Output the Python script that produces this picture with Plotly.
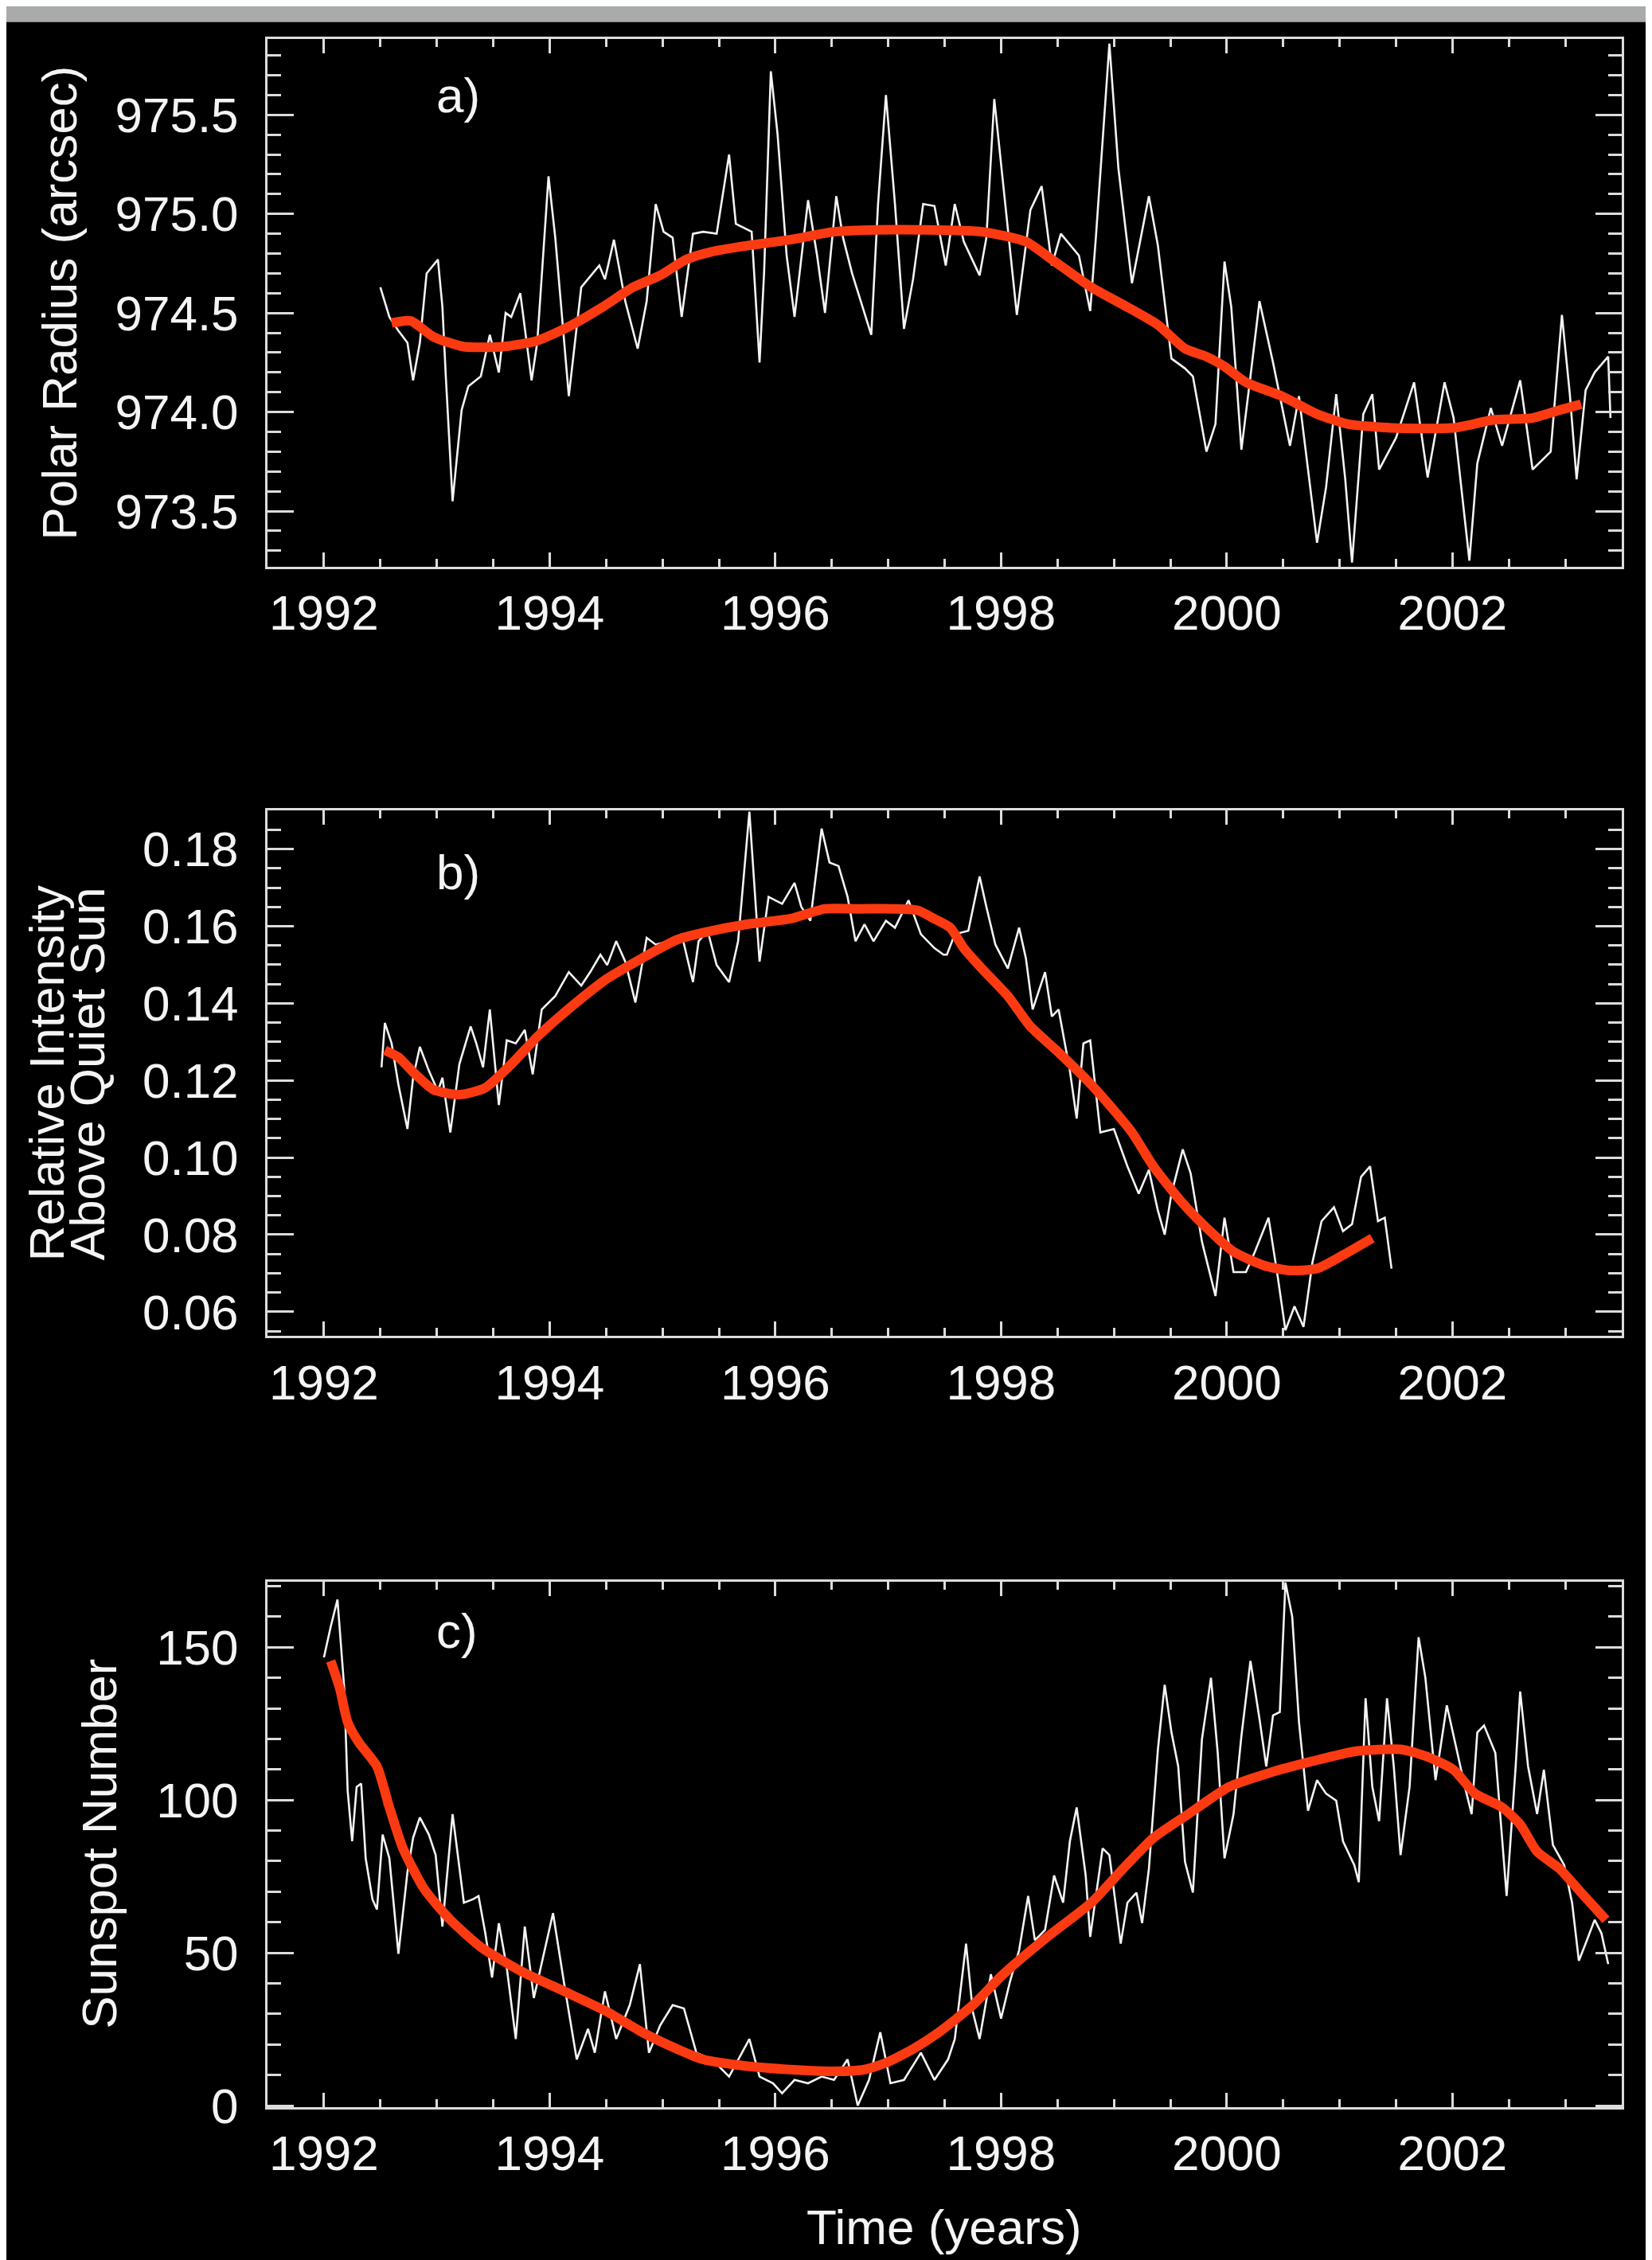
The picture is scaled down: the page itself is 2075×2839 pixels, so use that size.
import plotly.graph_objects as go

# ---------------- data: panel a (polar radius, arcsec) ----------------
rad_years = [1992.50, 1992.58, 1992.66, 1992.74, 1992.79, 1992.85, 1992.91, 1993.01, 1993.05, 1993.08,
             1993.14, 1993.22, 1993.28, 1993.39, 1993.47, 1993.55, 1993.61, 1993.66, 1993.74, 1993.84,
             1993.89, 1993.99, 1994.05, 1994.17, 1994.28, 1994.44, 1994.49, 1994.57, 1994.67, 1994.78,
             1994.86, 1994.94, 1995.01, 1995.09, 1995.17, 1995.27, 1995.36, 1995.48, 1995.59, 1995.65,
             1995.79, 1995.86, 1995.90, 1995.96, 1996.02, 1996.10, 1996.17, 1996.29, 1996.37, 1996.44,
             1996.54, 1996.60, 1996.68, 1996.85, 1996.91, 1996.98, 1997.06, 1997.14, 1997.22, 1997.31,
             1997.41, 1997.51, 1997.59, 1997.67, 1997.81, 1997.87, 1997.94, 1998.02, 1998.14, 1998.26,
             1998.36, 1998.45, 1998.53, 1998.69, 1998.79, 1998.84, 1998.96, 1999.04, 1999.16, 1999.31,
             1999.39, 1999.51, 1999.63, 1999.70, 1999.82, 1999.90, 1999.98, 2000.04, 2000.13, 2000.21,
             2000.29, 2000.41, 2000.56, 2000.64, 2000.80, 2000.88, 2000.97, 2001.05, 2001.11, 2001.21,
             2001.29, 2001.35, 2001.50, 2001.66, 2001.78, 2001.93, 2002.01, 2002.15, 2002.22, 2002.34,
             2002.44, 2002.60, 2002.71, 2002.87, 2002.97, 2003.04, 2003.10, 2003.18, 2003.26, 2003.38,
             2003.40]
rad_values = [974.63, 974.48, 974.41, 974.35, 974.16, 974.35, 974.70, 974.77, 974.53, 974.18,
              973.55, 974.01, 974.13, 974.18, 974.39, 974.20, 974.50, 974.48, 974.60, 974.16,
              974.35, 975.19, 974.88, 974.08, 974.63, 974.74, 974.67, 974.87, 974.56, 974.32,
              974.56, 975.05, 974.91, 974.88, 974.48, 974.90, 974.91, 974.90, 975.30, 974.95,
              974.91, 974.25, 974.70, 975.72, 975.40, 974.79, 974.48, 975.07, 974.79, 974.50,
              975.09, 974.88, 974.70, 974.39, 975.05, 975.60, 975.05, 974.42, 974.67, 975.05,
              975.04, 974.74, 975.05, 974.86, 974.69, 974.88, 975.58, 975.14, 974.49, 975.02,
              975.14, 974.74, 974.90, 974.79, 974.51, 974.88, 975.86, 975.23, 974.65, 975.09,
              974.84, 974.27, 974.22, 974.18, 973.80, 973.94, 974.76, 974.53, 973.81, 974.18,
              974.56, 974.25, 973.83, 974.08, 973.34, 973.62, 974.09, 973.66, 973.24, 973.99,
              974.09, 973.71, 973.87, 974.15, 973.67, 974.15, 973.97, 973.25, 973.74, 974.02,
              973.83, 974.16, 973.71, 973.80, 974.49, 974.09, 973.66, 974.11, 974.20, 974.28,
              973.97]
rad_fit_years = [1992.60, 1992.77, 1992.97, 1993.24, 1993.59, 1993.89, 1994.20, 1994.47, 1994.74, 1994.98,
                 1995.21, 1995.44, 1995.75, 1996.13, 1996.52, 1996.91, 1997.29, 1997.83, 1998.22, 1998.45,
                 1998.80, 1999.12, 1999.39, 1999.63, 1999.82, 1999.98, 2000.17, 2000.49, 2000.80, 2001.07,
                 2001.46, 2002.01, 2002.36, 2002.71, 2002.95, 2003.14]
rad_fit_values = [974.45, 974.46, 974.38, 974.33, 974.33, 974.36, 974.44, 974.53, 974.63, 974.69,
                  974.77, 974.81, 974.84, 974.87, 974.91, 974.92, 974.92, 974.91, 974.86, 974.77,
                  974.63, 974.53, 974.44, 974.32, 974.28, 974.23, 974.15, 974.08, 973.99, 973.94,
                  973.92, 973.92, 973.96, 973.97, 974.01, 974.04]

# ---------------- data: panel b (relative intensity) ----------------
int_years = [1992.51, 1992.54, 1992.60, 1992.66, 1992.74, 1992.79, 1992.85, 1992.93, 1993.01, 1993.05,
             1993.12, 1993.20, 1993.30, 1993.35, 1993.41, 1993.47, 1993.55, 1993.62, 1993.70, 1993.78,
             1993.85, 1993.93, 1994.05, 1994.17, 1994.28, 1994.36, 1994.45, 1994.51, 1994.59, 1994.67,
             1994.76, 1994.86, 1994.94, 1995.05, 1995.17, 1995.27, 1995.32, 1995.40, 1995.48, 1995.59,
             1995.67, 1995.77, 1995.86, 1995.94, 1996.06, 1996.17, 1996.23, 1996.31, 1996.41, 1996.48,
             1996.56, 1996.64, 1996.71, 1996.79, 1996.87, 1996.98, 1997.06, 1997.18, 1997.29, 1997.41,
             1997.49, 1997.52, 1997.59, 1997.71, 1997.81, 1997.87, 1997.95, 1998.06, 1998.16, 1998.22,
             1998.28, 1998.39, 1998.45, 1998.51, 1998.61, 1998.67, 1998.73, 1998.79, 1998.88, 1999.00,
             1999.12, 1999.22, 1999.31, 1999.39, 1999.45, 1999.51, 1999.61, 1999.68, 1999.78, 1999.90,
             1999.98, 2000.06, 2000.17, 2000.25, 2000.37, 2000.45, 2000.52, 2000.60, 2000.68, 2000.76,
             2000.84, 2000.95, 2001.03, 2001.11, 2001.19, 2001.27, 2001.34, 2001.40, 2001.46]
int_values = [0.1234, 0.1349, 0.1296, 0.1189, 0.1074, 0.1207, 0.1287, 0.1225, 0.1172, 0.1207,
              0.1065, 0.1242, 0.1340, 0.1296, 0.1234, 0.1384, 0.1136, 0.1304, 0.1296, 0.1331,
              0.1216, 0.1384, 0.1419, 0.1481, 0.1446, 0.1481, 0.1526, 0.1499, 0.1561, 0.1508,
              0.1402, 0.1570, 0.1552, 0.1561, 0.1579, 0.1455, 0.1561, 0.1588, 0.1499, 0.1455,
              0.1561, 0.1897, 0.1508, 0.1676, 0.1658, 0.1712, 0.1650, 0.1614, 0.1853, 0.1765,
              0.1756, 0.1676, 0.1561, 0.1605, 0.1561, 0.1614, 0.1596, 0.1667, 0.1579, 0.1543,
              0.1526, 0.1526, 0.1579, 0.1588, 0.1729, 0.1650, 0.1552, 0.1490, 0.1596, 0.1517,
              0.1384, 0.1481, 0.1366, 0.1384, 0.1225, 0.1101, 0.1296, 0.1304, 0.1065, 0.1074,
              0.0977, 0.0906, 0.0968, 0.0862, 0.0800, 0.0906, 0.1021, 0.0959, 0.0782, 0.0641,
              0.0844, 0.0703, 0.0703, 0.0756, 0.0844, 0.0694, 0.0552, 0.0614, 0.0561, 0.0729,
              0.0835, 0.0871, 0.0809, 0.0827, 0.0950, 0.0977, 0.0835, 0.0844, 0.0712]
int_fit_years = [1992.54, 1992.66, 1992.81, 1992.97, 1993.20, 1993.43, 1993.66, 1993.89, 1994.20, 1994.51,
                 1994.82, 1995.13, 1995.36, 1995.75, 1996.13, 1996.44, 1996.75, 1997.06, 1997.26, 1997.41,
                 1997.55, 1997.67, 1997.83, 1998.06, 1998.26, 1998.49, 1998.77, 1998.96, 1999.16, 1999.35,
                 1999.59, 1999.82, 2000.06, 2000.33, 2000.56, 2000.80, 2001.03, 2001.29]
int_fit_values = [0.1278, 0.1260, 0.1216, 0.1176, 0.1163, 0.1181, 0.1242, 0.1313, 0.1393, 0.1464,
                  0.1517, 0.1565, 0.1583, 0.1605, 0.1619, 0.1645, 0.1645, 0.1645, 0.1641, 0.1619,
                  0.1596, 0.1543, 0.1490, 0.1419, 0.1340, 0.1278, 0.1198, 0.1136, 0.1065, 0.0977,
                  0.0888, 0.0818, 0.0756, 0.0720, 0.0707, 0.0712, 0.0747, 0.0791]

# ---------------- data: panel c (sunspot number) ----------------
ssn_years = [1992.00, 1992.06, 1992.12, 1992.18, 1992.21, 1992.25, 1992.29, 1992.33, 1992.37, 1992.43,
             1992.47, 1992.52, 1992.58, 1992.66, 1992.74, 1992.79, 1992.85, 1992.93, 1992.99, 1993.05,
             1993.14, 1993.24, 1993.32, 1993.37, 1993.43, 1993.49, 1993.55, 1993.62, 1993.70, 1993.78,
             1993.86, 1993.93, 1994.03, 1994.13, 1994.24, 1994.34, 1994.40, 1994.49, 1994.59, 1994.71,
             1994.80, 1994.88, 1994.98, 1995.09, 1995.19, 1995.30, 1995.44, 1995.59, 1995.77, 1995.86,
             1995.98, 1996.06, 1996.17, 1996.29, 1996.41, 1996.52, 1996.64, 1996.73, 1996.83, 1996.93,
             1997.02, 1997.14, 1997.29, 1997.41, 1997.53, 1997.59, 1997.69, 1997.75, 1997.81, 1997.91,
             1998.00, 1998.08, 1998.16, 1998.24, 1998.30, 1998.39, 1998.47, 1998.55, 1998.61, 1998.67,
             1998.75, 1998.79, 1998.90, 1998.96, 1999.06, 1999.12, 1999.20, 1999.25, 1999.31, 1999.39,
             1999.45, 1999.51, 1999.57, 1999.63, 1999.70, 1999.78, 1999.86, 1999.92, 1999.98, 2000.06,
             2000.13, 2000.21, 2000.29, 2000.35, 2000.41, 2000.47, 2000.52, 2000.58, 2000.64, 2000.72,
             2000.80, 2000.88, 2000.97, 2001.03, 2001.13, 2001.17, 2001.23, 2001.29, 2001.35, 2001.42,
             2001.48, 2001.54, 2001.62, 2001.70, 2001.76, 2001.85, 2001.95, 2002.03, 2002.11, 2002.17,
             2002.22, 2002.28, 2002.38, 2002.48, 2002.56, 2002.60, 2002.67, 2002.75, 2002.81, 2002.89,
             2002.99, 2003.06, 2003.12, 2003.18, 2003.26, 2003.32, 2003.38]
ssn_values = [146.7, 156.7, 165.6, 136.6, 103.2, 86.5, 104.3, 105.4, 80.9, 67.5,
              64.2, 88.7, 80.9, 49.7, 76.4, 87.6, 94.3, 88.7, 82.0, 58.6,
              95.4, 66.4, 67.5, 68.6, 56.4, 41.9, 59.7, 45.2, 21.8, 58.6,
              35.2, 46.3, 63.0, 39.6, 15.1, 25.1, 17.3, 37.4, 21.8, 32.9,
              46.3, 17.3, 26.3, 32.9, 31.8, 17.3, 15.1, 9.5, 21.8, 9.5,
              7.3, 4.0, 8.4, 7.3, 9.5, 8.4, 15.1, 0.0, 8.4, 24.0,
              7.3, 8.4, 17.3, 8.4, 15.1, 21.8, 53.0, 30.7, 21.8, 43.0,
              28.5, 40.7, 50.8, 68.6, 54.1, 57.5, 75.3, 66.4, 86.5, 97.6,
              75.3, 55.2, 84.2, 82.0, 53.0, 66.4, 69.7, 59.7, 77.5, 116.6,
              137.7, 122.1, 111.0, 79.8, 69.7, 119.9, 140.0, 115.4, 80.9, 95.4,
              121.0, 145.5, 126.6, 111.0, 127.7, 128.8, 171.2, 160.0, 125.5, 96.5,
              106.5, 102.1, 99.8, 86.5, 78.7, 73.1, 133.3, 104.3, 93.1, 133.3,
              111.0, 82.0, 104.3, 153.3, 140.0, 106.5, 131.0, 117.7, 104.3, 95.4,
              122.1, 124.4, 115.4, 68.6, 111.0, 135.5, 111.0, 95.4, 109.9, 85.3,
              78.7, 66.4, 47.4, 53.0, 60.8, 56.4, 46.3]
ssn_fit_years = [1992.06, 1992.14, 1992.21, 1992.31, 1992.47, 1992.58, 1992.70, 1992.89, 1993.12, 1993.39,
                 1993.74, 1994.13, 1994.51, 1994.82, 1995.13, 1995.36, 1995.75, 1996.13, 1996.52, 1996.79,
                 1996.98, 1997.22, 1997.45, 1997.75, 1998.02, 1998.41, 1998.80, 1999.08, 1999.35, 1999.66,
                 2000.02, 2000.37, 2000.76, 2001.15, 2001.54, 2001.77, 2002.01, 2002.20, 2002.44, 2002.60,
                 2002.75, 2002.95, 2003.14, 2003.36]
ssn_fit_values = [145.5, 136.6, 125.5, 118.8, 111.0, 97.6, 84.2, 70.8, 60.8, 51.9,
                  44.1, 37.4, 30.7, 24.0, 18.5, 15.1, 12.9, 11.8, 11.2, 11.8,
                  14.0, 18.5, 24.0, 32.9, 43.0, 55.2, 66.4, 77.5, 87.6, 95.4,
                  104.3, 108.8, 112.7, 116.0, 116.6, 114.3, 109.9, 102.1, 97.6, 92.0,
                  83.1, 77.5, 69.7, 60.8]

# ---------------- text ----------------
x_ticks = [1992, 1994, 1996, 1998, 2000, 2002]
panel_labels = ["a)", "b)", "c)"]
y_titles = ["Polar Radius (arcsec)", ["Relative Intensity", "Above Quiet Sun"], "Sunspot Number"]
x_title = "Time (years)"

# ---------------- style ----------------
W, H = 2075, 2839
FONT = "Liberation Sans, Arial, Helvetica, sans-serif"
FS = 62
FG = "#f4f4f4"
AX = "#dcdcdc"
RED = "#fc3a12"
GRAY = "#a9abaa"

def px_x(p):
    return p / W

def px_y(p):
    return 1 - p / H

x_dom = [px_x(328), px_x(2029)]
panels = [  # (top px, bottom px)
    (41, 712),
    (1022, 1690),
    (2002, 2670),
]

fig = go.Figure()

series = [
    (rad_years, rad_values, rad_fit_years, rad_fit_values),
    (int_years, int_values, int_fit_years, int_fit_values),
    (ssn_years, ssn_values, ssn_fit_years, ssn_fit_values),
]
for i, (xw, yw, xr, yr) in enumerate(series):
    sfx = "" if i == 0 else str(i + 1)
    fig.add_trace(go.Scatter(x=xw, y=yw, mode="lines", xaxis="x" + sfx, yaxis="y" + sfx,
                             line=dict(color=FG, width=2.6), showlegend=False, hoverinfo="skip"))
    fig.add_trace(go.Scatter(x=xr, y=yr, mode="lines", xaxis="x" + sfx, yaxis="y" + sfx,
                             line=dict(color=RED, width=12, shape="spline", smoothing=0.6),
                             showlegend=False, hoverinfo="skip"))

y_specs = [
    dict(range=[973.22, 975.885], tick0=973.5, dtick=0.5, tickformat=".1f", minor=0.1),
    dict(range=[0.0537, 0.190], tick0=0.06, dtick=0.02, tickformat=".2f", minor=0.005),
    dict(range=[-0.5, 171.5], tick0=0, dtick=50, tickformat="d", minor=10),
]

layout = dict(
    width=W, height=H, autosize=False,
    paper_bgcolor="black", plot_bgcolor="black",
    margin=dict(l=0, r=0, t=0, b=0),
    font=dict(family=FONT, size=FS, color=FG),
    showlegend=False,
)

for i, (top, bot) in enumerate(panels):
    sfx = "" if i == 0 else str(i + 1)
    ys = y_specs[i]
    layout["xaxis" + sfx] = dict(
        domain=x_dom, anchor="y" + sfx, range=[1991.5, 2003.5],
        tickmode="array", tickvals=x_ticks, ticktext=[str(t) for t in x_ticks],
        ticks="inside", ticklen=18, tickwidth=3, tickcolor=AX,
        minor=dict(dtick=0.5, tick0=1992, ticks="inside", ticklen=10, tickwidth=2.5, tickcolor=AX),
        showline=True, linecolor=AX, linewidth=3, mirror="ticks",
        showgrid=False, zeroline=False,
        tickfont=dict(family=FONT, size=FS, color=FG),
        ticklabelstandoff=2,
    )
    layout["yaxis" + sfx] = dict(
        domain=[px_y(bot), px_y(top)], anchor="x" + sfx, range=ys["range"],
        tick0=ys["tick0"], dtick=ys["dtick"], tickformat=ys["tickformat"],
        ticks="inside", ticklen=33, tickwidth=3, tickcolor=AX,
        minor=dict(dtick=ys["minor"], ticks="inside", ticklen=17, tickwidth=2.5, tickcolor=AX),
        showline=True, linecolor=AX, linewidth=3, mirror="ticks",
        showgrid=False, zeroline=False,
        tickfont=dict(family=FONT, size=FS, color=FG),
        ticklabelstandoff=21,
    )

ann = []
label_y = [113, 1100, 2064]
for i, lab in enumerate(panel_labels):
    ann.append(dict(text=lab, xref="paper", yref="paper", x=px_x(538), y=px_y(label_y[i]),
                    xanchor="left", yanchor="middle", showarrow=False,
                    font=dict(family=FONT, size=FS, color=FG)))

# y titles
ann.append(dict(text=y_titles[0], xref="paper", yref="paper", x=px_x(67), y=px_y(377),
                xanchor="center", yanchor="middle", textangle=-90, showarrow=False,
                font=dict(family=FONT, size=FS, color=FG)))
ann.append(dict(text=y_titles[1][0], xref="paper", yref="paper", x=px_x(50), y=px_y(1356),
                xanchor="center", yanchor="middle", textangle=-90, showarrow=False,
                font=dict(family=FONT, size=FS, color=FG)))
ann.append(dict(text=y_titles[1][1], xref="paper", yref="paper", x=px_x(101), y=px_y(1357),
                xanchor="center", yanchor="middle", textangle=-90, showarrow=False,
                font=dict(family=FONT, size=FS, color=FG)))
ann.append(dict(text=y_titles[2], xref="paper", yref="paper", x=px_x(117), y=px_y(2336),
                xanchor="center", yanchor="middle", textangle=-90, showarrow=False,
                font=dict(family=FONT, size=FS, color=FG)))
ann.append(dict(text=x_title, xref="paper", yref="paper", x=px_x(1178), y=px_y(2822),
                xanchor="center", yanchor="middle", showarrow=False,
                font=dict(family=FONT, size=FS, color=FG)))
layout["annotations"] = ann

layout["shapes"] = [
    dict(type="rect", xref="paper", yref="paper", x0=0, x1=1, y0=px_y(20), y1=1,
         fillcolor=GRAY, line=dict(width=0), layer="above"),
    dict(type="rect", xref="paper", yref="paper", x0=px_x(2059), x1=1, y0=0, y1=1,
         fillcolor=GRAY, line=dict(width=0), layer="above"),
]

fig.update_layout(**layout)
fig.write_html("out.html")
